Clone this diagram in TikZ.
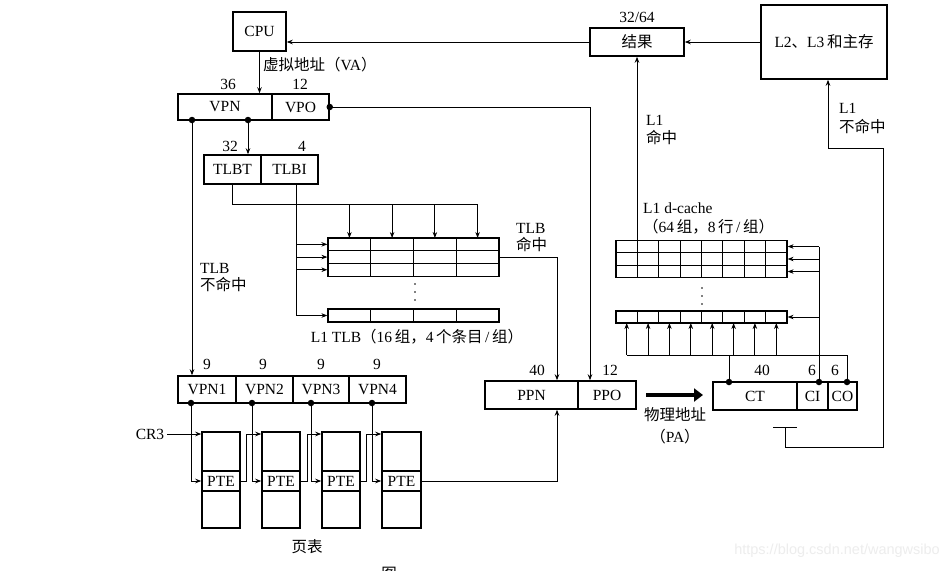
\documentclass[tikz,border=0pt]{standalone}
\usepackage{fontspec}
\setmainfont{Liberation Serif}
\newfontfamily\cjk{Noto Sans CJK SC}
\newfontfamily\wmfont{Liberation Sans}
\usetikzlibrary{arrows.meta,calc}
\begin{document}
\begin{tikzpicture}[x=1pt,y=-1pt,
  box/.style={draw, line width=1.5pt, inner sep=0pt, font=\fontsize{15.5}{16}\selectfont},
  cell/.style={draw, line width=1.2pt, inner sep=0pt, minimum width=171pt},
  conn/.style={line width=0.9pt},
  arr/.style={conn, -{Stealth[length=6pt,width=4.5pt]}},
  bigarrow/.style={line width=4.5pt, -{Triangle[length=9pt,width=13pt]}},
  dotc/.style={circle, fill, inner sep=0pt, minimum size=6.5pt},
  smalldot/.style={circle, fill, inner sep=0pt, minimum size=1.8pt},
  lbl/.style={inner sep=0pt, font=\fontsize{15.5}{17}\selectfont},
  lbll/.style={lbl, anchor=west},
]
\useasboundingbox (0,0) rectangle (949,570);
\fill[white] (0,0) rectangle (949,570);

% ---------- top boxes ----------
\node[box, minimum width=53pt, minimum height=39pt] (cpu) at (259.5,31.5) {CPU};
\node[box, minimum width=94pt, minimum height=28pt] (res) at (637,42) {\cjk 结果};
\node[box, minimum width=126pt, minimum height=74pt] (l2) at (824,42) {L2{\cjk 、}L3\,{\cjk 和主存}};
\node[lbl] (n3264) at (637,17) {32/64};

% ---------- VPN / VPO ----------
\node[box, minimum width=94pt, minimum height=26pt] (vpn) at (225,107) {VPN};
\node[box, minimum width=57pt, minimum height=26pt] (vpo) at (300.5,107) {VPO};
\node[lbl] (n36) at (228,84) {36};
\node[lbl] (n12a) at (300,84) {12};
\node[lbll] (va) at (263,65) {{\cjk 虚拟地址（}VA{\cjk ）}};

% ---------- TLBT / TLBI ----------
\node[box, minimum width=57pt, minimum height=29pt] (tlbt) at (232.5,169.5) {TLBT};
\node[box, minimum width=57pt, minimum height=29pt] (tlbi) at (289.5,169.5) {TLBI};
\node[lbl] (n32) at (230,146) {32};
\node[lbl] (n4) at (302,146) {4};

% ---------- L1 TLB ----------
\node[cell, minimum height=12.7pt] (tlbr1) at (413.5,244.35) {};
\node[cell, minimum height=12.7pt] (tlbr2) at (413.5,257.05) {};
\node[cell, minimum height=12.7pt] (tlbr3) at (413.5,269.75) {};
\node[cell, minimum height=13pt] (tlbr4) at (413.5,315.5) {};
\foreach \i in {1,2,3} {
  \draw[line width=1.2pt] (328+\i*42.75,238) -- (328+\i*42.75,276.1);
  \draw[line width=1.2pt] (328+\i*42.75,309) -- (328+\i*42.75,322);
}
\node[smalldot] (td1) at (415,284) {};
\node[smalldot] (td2) at (415,292) {};
\node[smalldot] (td3) at (415,300) {};
\node[lbl] (tlbname) at (417,337) {L1 TLB{\cjk （}16\,{\cjk 组，}4\,{\cjk 个条目}\,/\,{\cjk 组）}};
\node[lbll] (tlbhit1) at (516,228) {TLB};
\node[lbll] (tlbhit2) at (516,245) {\cjk 命中};
\node[lbll] (tlbmiss1) at (200,268) {TLB};
\node[lbll] (tlbmiss2) at (200,285) {\cjk 不命中};

% ---------- VPN1..4 ----------
\node[box, minimum width=58pt, minimum height=27pt] (vpn1) at (207,389.5) {VPN1};
\node[box, minimum width=57pt, minimum height=27pt] (vpn2) at (264.5,389.5) {VPN2};
\node[box, minimum width=56pt, minimum height=27pt] (vpn3) at (321,389.5) {VPN3};
\node[box, minimum width=57pt, minimum height=27pt] (vpn4) at (377.5,389.5) {VPN4};
\node[lbl] (n9a) at (207,364) {9};
\node[lbl] (n9b) at (263,364) {9};
\node[lbl] (n9c) at (321,364) {9};
\node[lbl] (n9d) at (377,364) {9};

% ---------- page tables ----------
\foreach \i/\x/\w in {1/221/38, 2/281/38, 3/341/38, 4/401.5/39} {
  \node[box, minimum width=\w pt, minimum height=96pt] (pt\i) at (\x,480) {};
  \node[box, minimum width=\w pt, minimum height=20pt] (pte\i) at (\x,481) {PTE};
}
\node[lbl] (cr3) at (150,434) {CR3};
\node[lbl] (pagetab) at (307,547) {\cjk 页表};

% ---------- PPN / PPO ----------
\node[box, minimum width=93pt, minimum height=28pt] (ppn) at (531.5,395) {PPN};
\node[box, minimum width=58pt, minimum height=28pt] (ppo) at (607,395) {PPO};
\node[lbl] (n40a) at (537,370) {40};
\node[lbl] (n12b) at (610,370) {12};
\coordinate (pastart) at (646,395);
\coordinate (paend) at (703,395);
\draw[bigarrow] (pastart) -- (paend);
\node[lbl] (pa1) at (675,415) {\cjk 物理地址};
\node[lbl] (pa2) at (675,437) {{\cjk （}PA{\cjk ）}};

% ---------- CT / CI / CO ----------
\node[box, minimum width=84pt, minimum height=28pt] (ct) at (755,396) {CT};
\node[box, minimum width=31pt, minimum height=28pt] (ci) at (812.5,396) {CI};
\node[box, minimum width=29pt, minimum height=28pt] (co) at (842.5,396) {CO};
\node[lbl] (n40b) at (762,370) {40};
\node[lbl] (n6a) at (812,370) {6};
\node[lbl] (n6b) at (835,370) {6};

% ---------- L1 d-cache ----------
\node[cell, minimum height=12.5pt] (cr1) at (701.5,246.5) {};
\node[cell, minimum height=12.5pt] (cr2) at (701.5,259) {};
\node[cell, minimum height=12.5pt] (cr3row) at (701.5,271.5) {};
\node[cell, minimum height=12pt] (cr4) at (701.5,317) {};
\foreach \i in {1,...,7} {
  \draw[line width=1.2pt] (616+\i*21.375,240.25) -- (616+\i*21.375,277.75);
  \draw[line width=1.2pt] (616+\i*21.375,311) -- (616+\i*21.375,323);
}
\node[smalldot] (cd1) at (702,288) {};
\node[smalldot] (cd2) at (702,296) {};
\node[smalldot] (cd3) at (702,304) {};
\node[lbll] (cname1) at (643,208) {L1 d-cache};
\node[lbll] (cname2) at (643,227) {{\cjk （}64\,{\cjk 组，}8\,{\cjk 行}\,/\,{\cjk 组）}};
\node[lbll] (hit1) at (646,120) {L1};
\node[lbll] (hit2) at (646,138) {\cjk 命中};
\node[lbll] (miss1) at (839,108) {L1};
\node[lbll] (miss2) at (839,127) {\cjk 不命中};

% ---------- connectors: top ----------
\draw[arr] (l2.west) -- (res.east);
\draw[arr] (res.west) -- (res.west -| cpu.east);
\draw[arr] (cpu.south) -- (cpu.south |- vpn.north);

\node[dotc] (dvpo) at (vpo.east) {};
\coordinate (cvpo) at (590,107);
\draw[arr] (dvpo.center) -- (cvpo) -- (cvpo |- ppo.north);

\node[dotc] (dvpn1) at (192,120) {};
\node[dotc] (dvpn2) at (248,120) {};
\draw[arr] (dvpn2.center) -- (dvpn2.center |- tlbt.north);
\draw[arr] (dvpn1.center) -- (dvpn1.center |- vpn1.north);

% TLBT -> TLB columns
\coordinate (ta) at (232,204);
\coordinate (tz) at (477.6,204);
\draw[conn] (tlbt.south -| ta) -- (ta) -- (tz);
\foreach \x in {349.4,392.1,434.9,477.6}
  \draw[arr] (\x,204) -- (\x,238);
% TLBI -> TLB rows
\coordinate (tb) at (296,315.5);
\draw[conn] (tlbi.south -| tb) -- (tb);
\foreach \r in {1,2,3,4}
  \draw[arr] (tlbr\r.west -| tb) -- (tlbr\r.west);

% TLB hit -> PPN
\coordinate (th) at (557,0);
\draw[arr] (tlbr2.east) -- (tlbr2.east -| th) -- (th |- ppn.north);
% PTE4 -> PPN
\draw[arr] (pte4.east) -- (pte4.east -| th) -- (th |- ppn.south);

% VPN fields -> PTEs
\foreach \i/\x in {1/191, 2/252, 3/311, 4/372} {
  \node[dotc] (dv\i) at (\x,403) {};
  \draw[arr] (dv\i.center) -- (dv\i.center |- pte\i.west) -- (pte\i.west);
}
% CR3 and PTE chain
\draw[arr] (cr3.east) ++(3,0) -- (cr3.east -| pt1.west);
\foreach \i/\j/\x in {1/2/246, 2/3/307, 3/4/366} {
  \coordinate (ch\i) at (\x,434);
  \draw[arr] (pte\i.east) -- (pte\i.east -| ch\i) -- (ch\i) -- (ch\i -| pt\j.west);
}

% ---------- connectors: cache ----------
\node[dotc] (dct) at (729,382) {};
\node[dotc] (dci) at (819,382) {};
\node[dotc] (dco) at (847,382) {};
\coordinate (cob) at (847,355);
\coordinate (coa) at (626.7,355);
\draw[conn] (dco.center) -- (cob) -- (coa);
\foreach \x in {626.7,648.1,669.4,690.8,712.2,733.6,754.9,776.3}
  \draw[arr] (\x,355) -- (\x,323);
\draw[conn] (dct.center) -- (729,355);
\coordinate (cit) at (819,246.5);
\draw[conn] (dci.center) -- (cit);
\foreach \r in {cr1,cr2,cr3row,cr4}
  \draw[arr] (\r.east -| cit) -- (\r.east);

% L1 hit
\draw[arr] (res.south |- cr1.north) -- (res.south);

% L1 miss
\coordinate (tl) at (773,427);
\coordinate (tr) at (797,427);
\draw[conn] (tl) -- (tr);
\coordinate (m1) at (785,427);
\coordinate (m2) at (785,447);
\coordinate (m3) at (883,447);
\coordinate (m4) at (883,148);
\coordinate (m5) at (828,148);
\draw[arr] (m1) -- (m2) -- (m3) -- (m4) -- (m5) -- (m5 |- l2.south);

% ---------- misc text ----------
\node[lbl] (fig) at (389,574) {\cjk 图};
\node[inner sep=0pt, anchor=east, text=black!7, font=\wmfont\fontsize{14.5}{16}\selectfont] (wm) at (940,551) {https://blog.csdn.net/wangwsibo};
\end{tikzpicture}
\end{document}
